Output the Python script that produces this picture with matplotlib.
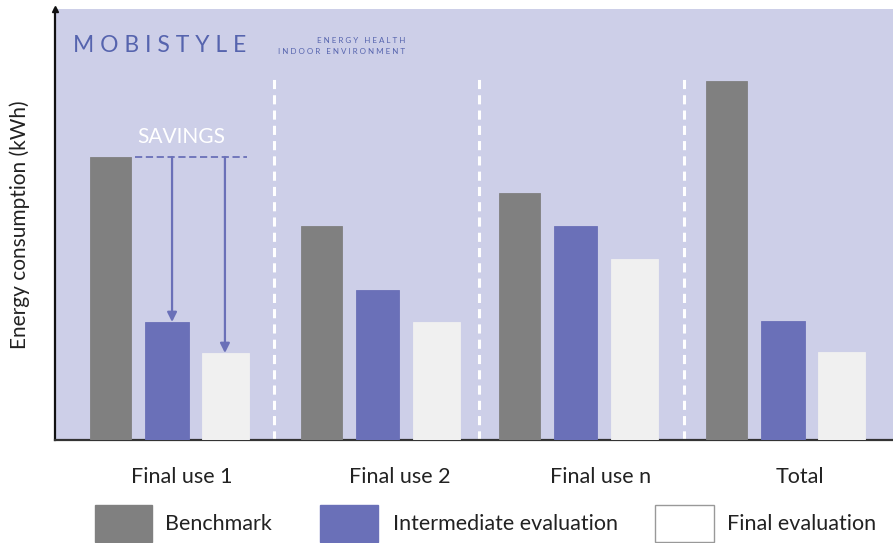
import matplotlib
matplotlib.use("Agg")
import matplotlib.pyplot as plt
from matplotlib.patches import Rectangle
import numpy as np

plt.rcParams['font.family'] = ['Lato', 'DejaVu Sans']

categories = ["Final use 1", "Final use 2", "Final use n", "Total"]
series_names = ["Benchmark", "Intermediate evaluation", "Final evaluation"]
benchmark = [28.3, 21.4, 24.7, 35.9]
intermediate = [11.8, 15.0, 21.4, 11.9]
final = [8.7, 11.8, 18.1, 8.8]

colors = ["#808080", "#6a70b8", "#f0f0f0"]
bg = "#cdcfe8"

W, H = 893, 543
fig = plt.figure(figsize=(W / 100, H / 100), dpi=100)
fig.patch.set_facecolor("white")

ax = fig.add_axes([55 / W, 103 / H, 838 / W, 431 / H])
ax.set_facecolor(bg)

x = np.array([0.0, 1.027, 1.993, 3.005])
offsets = [-0.273, 0.0, 0.287]
widths = [0.2, 0.213, 0.23]
for vals, off, wd, col in zip([benchmark, intermediate, final], offsets, widths, colors):
    ax.bar(x + off, vals, width=wd, color=col, edgecolor=col, linewidth=0.6, zorder=3)

ax.set_xlim(-0.546, 3.542)
ax.set_ylim(0, 43.1)

# dashed separators between groups
for sx in [0.522, 1.522, 2.522]:
    ax.plot([sx, sx], [0, 36.2], color="white", lw=2.2, ls=(0, (3, 2)), zorder=2)

# savings annotation on the first group
ax.plot([-0.156, 0.39], [benchmark[0], benchmark[0]], color="#6a70b8", lw=1.3,
        ls=(0, (4, 2)), zorder=4)
for ax_x, target in [(0.025, intermediate[0]), (0.283, final[0])]:
    ax.annotate("", xy=(ax_x, target), xytext=(ax_x, benchmark[0]),
                arrowprops=dict(arrowstyle="-|>", color="#6a70b8", lw=1.6,
                                mutation_scale=14, shrinkA=0, shrinkB=0),
                zorder=5)
ax.text(0.07, benchmark[0] + 1.0, "SAVINGS", color="white", fontsize=15,
        ha="center", va="bottom", zorder=5)

# spines and axis arrow
for s in ["top", "right"]:
    ax.spines[s].set_visible(False)
ax.spines["left"].set_color("#111111")
ax.spines["left"].set_linewidth(1.6)
ax.spines["bottom"].set_color("#333333")
ax.spines["bottom"].set_linewidth(1.6)
ax.plot(0, 1, marker="^", color="#111111", markersize=5,
        transform=ax.transAxes, clip_on=False, zorder=6)

ax.set_yticks([])
ax.set_xticks(x + np.array([0.073, 0.11, 0.12, 0.085]))
ax.set_xticklabels(categories, fontsize=15.5, color="#222222")
ax.tick_params(axis="x", length=0, pad=19.5)
ax.set_ylabel("Energy consumption (kWh)", fontsize=15, color="#222222", labelpad=18)

# logo
ax.text(0.022, 0.915, "M O B I S T Y L E", transform=ax.transAxes, fontsize=16.5,
        color="#5664ae", ha="left", va="center")
ax.text(0.418, 0.928, "E N E R G Y   H E A L T H", transform=ax.transAxes,
        fontsize=5.8, color="#5664ae", ha="right", va="center")
ax.text(0.418, 0.902, "I N D O O R   E N V I R O N M E N T", transform=ax.transAxes,
        fontsize=5.8, color="#5664ae", ha="right", va="center")

# legend drawn below the chart
legend_boxes = [(95, 152, 165), (320, 378, 393), (655, 714, 727)]
for (x0, x1, tx), name, col in zip(legend_boxes, series_names, colors):
    ec = "#999999" if col == "#f0f0f0" else col
    fc = "white" if col == "#f0f0f0" else col
    fig.add_artist(Rectangle((x0 / W, 1 / H), (x1 - x0) / W, 37 / H,
                             transform=fig.transFigure, facecolor=fc,
                             edgecolor=ec, linewidth=1.0))
    fig.text(tx / W, (543 - 524) / H, name, fontsize=15.5, color="#222222",
             ha="left", va="center")

fig.savefig("out.png", dpi=100)
